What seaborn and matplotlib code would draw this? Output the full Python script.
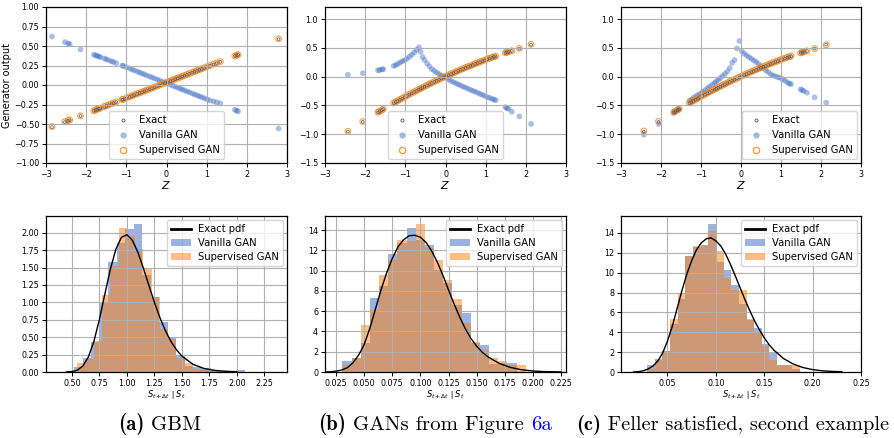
import matplotlib
matplotlib.use("Agg")
import matplotlib.pyplot as plt
import seaborn as sns
import numpy as np
import pandas as pd
from matplotlib.lines import Line2D
from matplotlib.patches import Patch

# ---------------- data: top row (generator output vs Z) ----------------
Za = [-2.85, -2.53, -2.45, -2.41, -2.14, -1.81, -1.76, -1.73, -1.68, -1.65, -1.55, -1.50, -1.44, -1.37,
      -1.32, -1.25, -1.10, -1.08, -1.00, -0.92, -0.86, -0.80, -0.73, -0.67, -0.61, -0.55, -0.49, -0.42,
      -0.36, -0.30, -0.23, -0.17, -0.10, -0.03, 0.03, 0.10, 0.16, 0.22, 0.28, 0.34, 0.39, 0.45, 0.51,
      0.57, 0.64, 0.70, 0.76, 0.82, 0.88, 0.94, 1.01, 1.08, 1.17, 1.25, 1.34, 1.70, 1.75, 1.78, 2.79]
exact_a = [-0.540, -0.476, -0.460, -0.452, -0.398, -0.332, -0.322, -0.316, -0.306, -0.300, -0.280, -0.270,
           -0.258, -0.244, -0.234, -0.220, -0.190, -0.186, -0.170, -0.154, -0.142, -0.130, -0.116, -0.104,
           -0.092, -0.080, -0.068, -0.054, -0.042, -0.030, -0.016, -0.004, 0.010, 0.024, 0.036, 0.050,
           0.062, 0.074, 0.086, 0.098, 0.108, 0.120, 0.132, 0.144, 0.158, 0.170, 0.182, 0.194, 0.206,
           0.218, 0.232, 0.246, 0.264, 0.280, 0.298, 0.370, 0.380, 0.386, 0.588]
sup_a = [-0.532, -0.470, -0.455, -0.448, -0.395, -0.330, -0.318, -0.312, -0.302, -0.297, -0.276, -0.266,
         -0.255, -0.240, -0.231, -0.217, -0.186, -0.183, -0.166, -0.150, -0.139, -0.127, -0.113, -0.101,
         -0.089, -0.077, -0.065, -0.051, -0.039, -0.027, -0.013, -0.001, 0.013, 0.027, 0.039, 0.053,
         0.065, 0.077, 0.089, 0.101, 0.111, 0.123, 0.135, 0.147, 0.161, 0.173, 0.185, 0.197, 0.209,
         0.221, 0.235, 0.249, 0.267, 0.283, 0.301, 0.372, 0.382, 0.389, 0.592]
van_a = [0.622, 0.550, 0.532, 0.524, 0.456, 0.388, 0.380, 0.374, 0.364, 0.358, 0.340, 0.330, 0.318, 0.304,
         0.294, 0.279, 0.249, 0.244, 0.228, 0.212, 0.199, 0.187, 0.173, 0.160, 0.148, 0.136, 0.123, 0.109,
         0.097, 0.085, 0.070, 0.058, 0.044, 0.029, 0.017, 0.003, -0.010, -0.022, -0.034, -0.047, -0.057,
         -0.069, -0.082, -0.094, -0.108, -0.121, -0.133, -0.145, -0.157, -0.170, -0.184, -0.198, -0.210,
         -0.222, -0.236, -0.318, -0.330, -0.338, -0.558]

Zbc = [-2.43, -2.06, -1.68, -1.64, -1.58, -1.55, -1.29, -1.24, -1.19, -1.13, -1.08, -1.02, -0.96, -0.90,
       -0.84, -0.78, -0.72, -0.66, -0.62, -0.57, -0.52, -0.46, -0.40, -0.34, -0.28, -0.22, -0.16, -0.10,
       -0.04, 0.02, 0.08, 0.14, 0.20, 0.26, 0.32, 0.38, 0.44, 0.50, 0.56, 0.62, 0.68, 0.74, 0.80, 0.86,
       0.92, 0.98, 1.04, 1.10, 1.16, 1.21, 1.25, 1.49, 1.53, 1.57, 1.65, 1.84, 2.13]
exact_bc = [-0.955, -0.786, -0.623, -0.606, -0.581, -0.568, -0.463, -0.443, -0.423, -0.400, -0.381, -0.357,
            -0.335, -0.312, -0.290, -0.268, -0.246, -0.224, -0.210, -0.192, -0.174, -0.153, -0.133, -0.112,
            -0.092, -0.071, -0.052, -0.032, -0.013, 0.006, 0.026, 0.044, 0.063, 0.081, 0.099, 0.118, 0.135,
            0.153, 0.170, 0.186, 0.204, 0.221, 0.237, 0.253, 0.269, 0.285, 0.301, 0.316, 0.331, 0.343,
            0.353, 0.410, 0.420, 0.428, 0.446, 0.487, 0.556]
sup_b = [-0.950, -0.780, -0.618, -0.601, -0.577, -0.563, -0.458, -0.439, -0.419, -0.396, -0.377, -0.353,
         -0.331, -0.308, -0.286, -0.264, -0.242, -0.220, -0.206, -0.188, -0.170, -0.149, -0.129, -0.108,
         -0.088, -0.067, -0.048, -0.028, -0.009, 0.010, 0.030, 0.048, 0.067, 0.085, 0.103, 0.122, 0.139,
         0.157, 0.174, 0.190, 0.208, 0.225, 0.241, 0.257, 0.273, 0.289, 0.305, 0.320, 0.335, 0.347,
         0.357, 0.414, 0.424, 0.432, 0.450, 0.491, 0.562]
van_b = [0.034, 0.060, 0.110, 0.115, 0.125, 0.130, 0.185, 0.200, 0.220, 0.245, 0.265, 0.285, 0.310, 0.345,
         0.380, 0.420, 0.465, 0.510, 0.430, 0.340, 0.290, 0.230, 0.180, 0.130, 0.100, 0.070, 0.045, 0.020,
         0.000, -0.025, -0.050, -0.075, -0.095, -0.115, -0.135, -0.155, -0.175, -0.190, -0.210, -0.230,
         -0.245, -0.260, -0.280, -0.300, -0.315, -0.335, -0.355, -0.370, -0.385, -0.400, -0.410, -0.530,
         -0.550, -0.560, -0.610, -0.690, -0.820]
sup_c = [-0.945, -0.776, -0.616, -0.600, -0.576, -0.562, -0.456, -0.437, -0.417, -0.394, -0.375, -0.352,
         -0.330, -0.307, -0.285, -0.263, -0.241, -0.219, -0.205, -0.187, -0.169, -0.148, -0.128, -0.107,
         -0.087, -0.066, -0.047, -0.027, -0.008, 0.011, 0.031, 0.049, 0.068, 0.086, 0.104, 0.123, 0.140,
         0.158, 0.175, 0.191, 0.209, 0.226, 0.242, 0.258, 0.274, 0.290, 0.306, 0.321, 0.336, 0.348,
         0.358, 0.412, 0.422, 0.430, 0.448, 0.488, 0.552]
van_c = [-1.010, -0.820, -0.630, -0.610, -0.580, -0.560, -0.420, -0.400, -0.370, -0.345, -0.320, -0.295,
         -0.265, -0.235, -0.200, -0.170, -0.140, -0.110, -0.085, -0.055, -0.025, 0.010, 0.050, 0.090,
         0.150, 0.240, 0.290, 0.490, 0.620, 0.440, 0.400, 0.370, 0.340, 0.310, 0.280, 0.255, 0.220,
         0.180, 0.150, 0.110, 0.080, 0.045, 0.020, 0.005, -0.010, -0.020, -0.045, -0.070, -0.100, -0.120,
         -0.130, -0.220, -0.235, -0.250, -0.280, -0.360, -0.450]

# ---------------- data: bottom row (histograms + exact pdf) ----------------
van_a_edges = [0.520, 0.598, 0.675, 0.753, 0.830, 0.908, 0.985, 1.063, 1.140, 1.218, 1.295, 1.373, 1.450,
               1.528, 1.605, 1.683, 1.760, 1.838, 1.915, 1.993, 2.070]
van_a_heights = [0.07, 0.20, 0.43, 1.00, 1.58, 1.85, 2.05, 2.12, 1.40, 1.07, 0.72, 0.50, 0.25, 0.09, 0.07,
                 0.06, 0.03, 0.01, 0.00, 0.03]
sup_a_edges = [0.550, 0.625, 0.700, 0.775, 0.850, 0.925, 1.000, 1.075, 1.150, 1.225, 1.300, 1.375, 1.450,
               1.525, 1.600, 1.675, 1.750, 1.825]
sup_a_heights = [0.13, 0.18, 0.45, 1.10, 1.52, 2.07, 1.95, 1.77, 1.48, 1.07, 0.62, 0.48, 0.20, 0.13, 0.04,
                 0.03, 0.02]
pdf_a_x = [0.45, 0.50, 0.55, 0.60, 0.65, 0.70, 0.75, 0.80, 0.85, 0.90, 0.95, 1.00, 1.05, 1.10, 1.15, 1.20,
           1.25, 1.30, 1.35, 1.40, 1.45, 1.50, 1.60, 1.70, 1.80, 1.90, 2.00]
pdf_a_y = [0.001, 0.006, 0.026, 0.086, 0.215, 0.438, 0.753, 1.120, 1.477, 1.763, 1.933, 1.972, 1.891, 1.719,
           1.492, 1.244, 1.001, 0.781, 0.594, 0.440, 0.320, 0.228, 0.111, 0.051, 0.023, 0.010, 0.004]

b_edges = [0.0306, 0.0388, 0.0469, 0.0551, 0.0632, 0.0714, 0.0795, 0.0877, 0.0958, 0.1040, 0.1121, 0.1203,
           0.1284, 0.1366, 0.1447, 0.1529, 0.1610, 0.1692, 0.1773, 0.1855, 0.1936]
van_b_heights = [1.1, 1.4, 2.9, 7.3, 8.5, 11.6, 12.7, 14.2, 13.0, 12.5, 10.1, 8.8, 6.6, 5.8, 2.9, 2.7, 0.75,
                 0.9, 0.9, 0.0]
sup_b_heights = [0.65, 1.4, 4.6, 6.1, 9.6, 11.1, 13.0, 12.9, 14.6, 12.2, 11.1, 9.1, 7.2, 4.8, 3.0, 2.2, 1.4,
                 1.05, 0.65, 0.65]
pdf_b_x = [0.015, 0.020, 0.025, 0.030, 0.035, 0.040, 0.045, 0.050, 0.055, 0.060, 0.065, 0.070, 0.075, 0.080,
           0.085, 0.090, 0.095, 0.100, 0.105, 0.110, 0.115, 0.120, 0.125, 0.130, 0.135, 0.140, 0.145, 0.150,
           0.155, 0.160, 0.170, 0.180, 0.190, 0.200, 0.210, 0.225]
pdf_b_y = [0.0, 0.02, 0.08, 0.2, 0.42, 0.9, 1.65, 2.7, 4.3, 6.2, 8.1, 9.8, 11.2, 12.35, 13.05, 13.45, 13.5,
           13.3, 12.8, 11.95, 10.85, 9.55, 8.1, 6.7, 5.4, 4.25, 3.3, 2.55, 1.95, 1.5, 0.85, 0.45, 0.22, 0.1,
           0.04, 0.01]

c_edges = [0.0290, 0.0369, 0.0448, 0.0527, 0.0606, 0.0685, 0.0764, 0.0843, 0.0922, 0.1001, 0.1080, 0.1159,
           0.1238, 0.1317, 0.1396, 0.1475, 0.1554, 0.1633, 0.1712, 0.1791, 0.1870]
van_c_heights = [0.67, 1.3, 2.15, 4.8, 7.3, 11.7, 12.6, 12.8, 14.9, 11.1, 10.3, 8.8, 6.8, 5.2, 4.4, 2.8, 2.0,
                 0.74, 0.74, 0.3]
sup_c_heights = [0.3, 1.25, 2.15, 5.3, 7.9, 11.7, 12.65, 12.7, 14.2, 12.15, 9.5, 8.3, 8.3, 5.3, 4.0, 2.6,
                 1.25, 0.74, 0.74, 0.74]
pdf_c_x = [0.015, 0.020, 0.025, 0.030, 0.035, 0.040, 0.045, 0.050, 0.055, 0.060, 0.065, 0.070, 0.075, 0.080,
           0.085, 0.090, 0.095, 0.100, 0.105, 0.110, 0.115, 0.120, 0.125, 0.130, 0.135, 0.140, 0.145, 0.150,
           0.155, 0.160, 0.170, 0.180, 0.190, 0.200, 0.210, 0.220, 0.230]
pdf_c_y = [0.0, 0.03, 0.12, 0.3, 0.6, 1.1, 1.9, 3.1, 4.6, 6.4, 8.2, 9.85, 11.2, 12.3, 13.0, 13.4, 13.5, 13.2,
           12.7, 11.9, 10.85, 9.7, 8.5, 7.3, 6.2, 5.15, 4.25, 3.45, 2.75, 2.2, 1.35, 0.8, 0.45, 0.24, 0.12,
           0.06, 0.03]

captions = [("(a)", " GBM", ""), ("(b)", " GANs from Figure ", "6a"),
            ("(c)", " Feller satisfied, second example", "")]

# ---------------- style ----------------
BLUE = "#3769c3"
ORANGE = "#ff7f0e"
plt.rcParams.update({
    "font.family": ["DejaVu Sans"],
    "axes.axisbelow": "line",
    "axes.linewidth": 0.9,
    "axes.edgecolor": "black",
    "grid.color": "#b0b0b0",
    "grid.linewidth": 0.8,
    "xtick.labelsize": 5.8,
    "ytick.labelsize": 5.8,
    "xtick.major.size": 3,
    "ytick.major.size": 3,
    "xtick.major.width": 0.7,
    "ytick.major.width": 0.7,
    "xtick.major.pad": 2,
    "ytick.major.pad": 2,
    "legend.fontsize": 7.2,
})

fig = plt.figure(figsize=(8.94, 4.38), dpi=100)
W, H = 894.0, 438.0
cols = [(46, 241), (325, 241), (621, 240)]
top_y = (7, 163)
bot_y = (216, 372)


def mkax(col, rows):
    x0, w = col
    y0, y1 = rows
    return fig.add_axes([x0 / W, 1 - y1 / H, w / W, (y1 - y0) / H])


top_axes = [mkax(c, top_y) for c in cols]
bot_axes = [mkax(c, bot_y) for c in cols]

# ---------------- top row: scatter ----------------
top_data = [(Za, exact_a, van_a, sup_a), (Zbc, exact_bc, van_b, sup_b), (Zbc, exact_bc, van_c, sup_c)]
for i, (ax, (z, ex, va, su)) in enumerate(zip(top_axes, top_data)):
    sns.scatterplot(x=z, y=va, ax=ax, color=BLUE, alpha=0.42, s=17, edgecolor="none", legend=False)
    sns.scatterplot(x=z, y=su, ax=ax, facecolor="none", edgecolor=ORANGE, alpha=0.75, s=17,
                    linewidth=0.8, legend=False)
    sns.scatterplot(x=z, y=ex, ax=ax, facecolor="none", edgecolor="#555555", s=4, linewidth=0.5,
                    legend=False)
    ax.set_xlim(-3, 3)
    ax.set_xticks([-3, -2, -1, 0, 1, 2, 3])
    if i == 0:
        ax.set_ylim(-1, 1)
        ax.set_yticks(np.arange(-1.0, 1.01, 0.25))
        ax.set_ylabel("Generator output", fontsize=7, labelpad=1.5)
    else:
        ax.set_ylim(-1.5, 1.21)
        ax.set_yticks([-1.5, -1.0, -0.5, 0.0, 0.5, 1.0])
    ax.set_xlabel("$Z$", fontsize=8, labelpad=0)
    ax.grid(True)
    handles = [
        Line2D([], [], marker="o", ls="", mfc="none", mec="#555555", ms=2.2, mew=0.6),
        Line2D([], [], marker="o", ls="", mfc=BLUE, mec="none", alpha=0.45, ms=4.5),
        Line2D([], [], marker="o", ls="", mfc="none", mec=ORANGE, alpha=0.8, ms=4.5, mew=0.9),
    ]
    loc = "lower center" if i < 2 else "lower right"
    ax.legend(handles, ["Exact", "Vanilla GAN", "Supervised GAN"], loc=loc, borderaxespad=0.4,
              handletextpad=0.6, labelspacing=0.5, borderpad=0.4, handlelength=2.0)

# ---------------- bottom row: histograms ----------------
bot_data = [
    (van_a_edges, van_a_heights, sup_a_edges, sup_a_heights, pdf_a_x, pdf_a_y),
    (b_edges, van_b_heights, b_edges, sup_b_heights, pdf_b_x, pdf_b_y),
    (c_edges, van_c_heights, c_edges, sup_c_heights, pdf_c_x, pdf_c_y),
]


def hist(ax, edges, heights, color):
    e = np.asarray(edges, dtype=float)
    df = pd.DataFrame({"x": (e[:-1] + e[1:]) / 2, "w": np.asarray(heights, dtype=float)})
    sns.histplot(data=df, x="x", weights="w", bins=list(e), ax=ax, color=color, alpha=0.5,
                 linewidth=0, edgecolor="none")


for i, (ax, (ve, vh, se, sh, px, py)) in enumerate(zip(bot_axes, bot_data)):
    hist(ax, ve, vh, BLUE)
    hist(ax, se, sh, ORANGE)
    sns.lineplot(x=px, y=py, ax=ax, color="black", linewidth=1.0, sort=False, estimator=None)
    ax.set_ylabel("")
    ax.set_xlabel(r"$S_{t+\Delta t}\mid S_t$", fontsize=6, labelpad=0.5)
    ax.grid(True)
    if i == 0:
        ax.set_xlim(0.265, 2.455)
        ax.set_xticks(np.arange(0.5, 2.26, 0.25))
        ax.set_ylim(0, 2.24)
        ax.set_yticks(np.arange(0, 2.01, 0.25))
        ax.xaxis.set_major_formatter(matplotlib.ticker.FormatStrFormatter("%.2f"))
        ax.yaxis.set_major_formatter(matplotlib.ticker.FormatStrFormatter("%.2f"))
    elif i == 1:
        ax.set_xlim(0.0152, 0.2294)
        ax.set_xticks(np.arange(0.025, 0.226, 0.025))
        ax.set_ylim(0, 15.4)
        ax.set_yticks(np.arange(0, 15, 2))
        ax.xaxis.set_major_formatter(matplotlib.ticker.FormatStrFormatter("%.3f"))
    else:
        ax.set_xlim(0.002, 0.25)
        ax.set_xticks([0.05, 0.10, 0.15, 0.20, 0.25])
        ax.set_ylim(0, 15.7)
        ax.set_yticks(np.arange(0, 15, 2))
        ax.xaxis.set_major_formatter(matplotlib.ticker.FormatStrFormatter("%.2f"))
    handles = [Line2D([], [], color="black", lw=2),
               Patch(facecolor=BLUE, alpha=0.5, edgecolor="none"),
               Patch(facecolor=ORANGE, alpha=0.5, edgecolor="none")]
    ax.legend(handles, ["Exact pdf", "Vanilla GAN", "Supervised GAN"], loc="upper right",
              borderaxespad=0.4, handletextpad=0.7, labelspacing=0.4, borderpad=0.4, handlelength=2.0)

# ---------------- captions ----------------
renderer = fig.canvas.get_renderer()
cap_x = [118, 318, 576]
cap_size = [15, 15, 14.7]
cap_base = 1 - 430 / H
for (lab, txt, link), x0, fs in zip(captions, cap_x, cap_size):
    x = x0 / W
    for s, fam, col in [(lab, "cmb10", "black"), (txt, "cmr10", "black"), (link, "cmr10", "#0000ff")]:
        if not s:
            continue
        t = fig.text(x, cap_base, s, fontsize=fs, family=fam, color=col, va="baseline", ha="left")
        bb = t.get_window_extent(renderer)
        x += bb.width / fig.bbox.width

fig.savefig("out.png", dpi=100)
